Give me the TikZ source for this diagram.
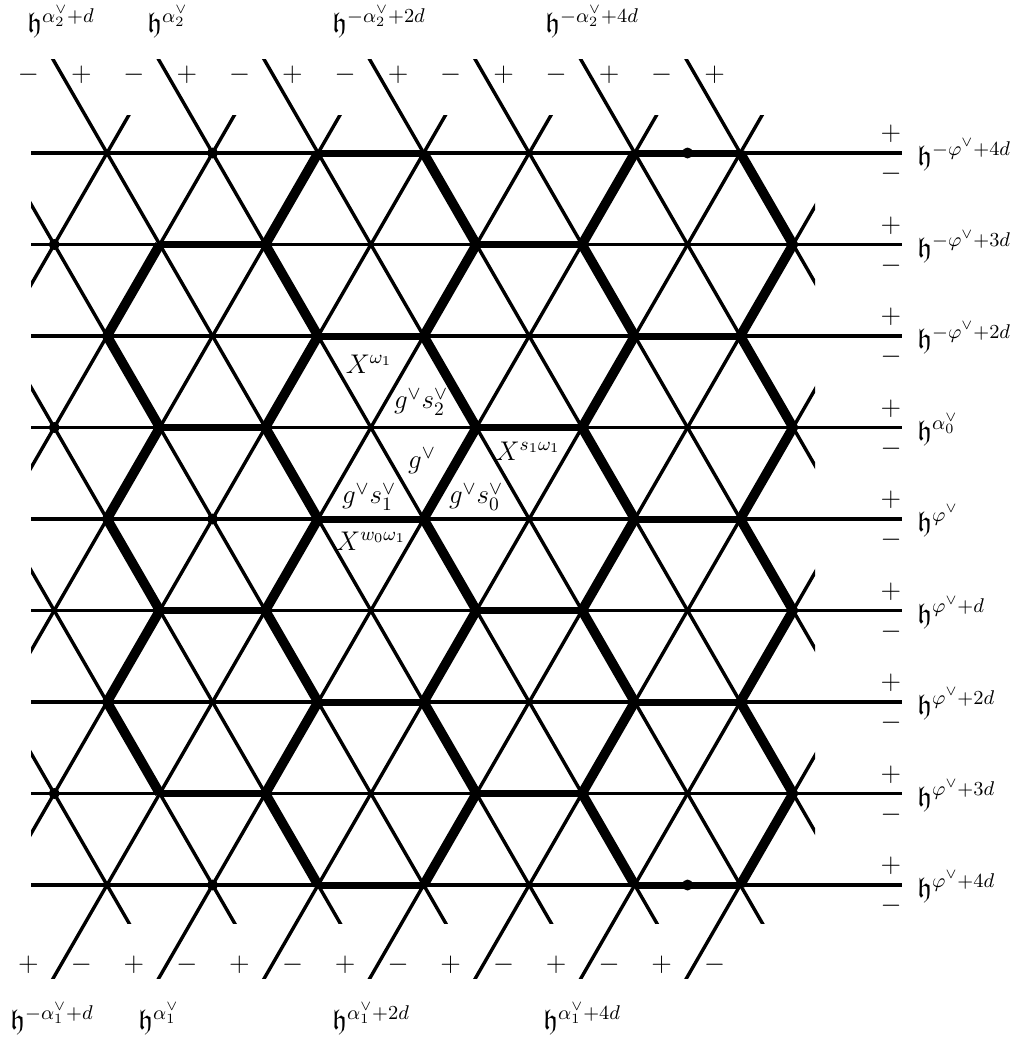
\RequirePackage{fix-cm}
\documentclass[tikz,border=0pt]{standalone}
\usepackage{amssymb}
\usetikzlibrary{calc}
\begin{document}
\begin{tikzpicture}[x=0.5pt,y=-0.5pt,
  font=\fontsize{13.5}{16}\selectfont,
  thinl/.style={line width=1.7pt},
  thickh/.style={line width=3.5pt},
  thickd/.style={line width=4.8pt},
  blackdot/.style={circle,fill=black,inner sep=0pt,minimum size=5.5pt},
  lbl/.style={inner sep=0pt},
  hlbl/.style={inner sep=0pt,anchor=west,font=\fontsize{14.2}{17}\selectfont},
  sgn/.style={inner sep=0pt}]
\useasboundingbox (0,0) rectangle (1023,1038);
% lattice vertices
\foreach \r in {0,2,4,6,8}
  \foreach \j in {0,...,6}
    \coordinate (v\r-\j) at ({107+105.55*\j},{153+91.5*\r});
\foreach \r in {1,3,5,7}
  \foreach \j in {0,...,7}
    \coordinate (v\r-\j) at ({54.225+105.55*\j},{153+91.5*\r});
% horizontal lines
\foreach \r in {0,...,8}{
  \coordinate (hl\r) at (31,{153+91.5*\r});
  \coordinate (hr\r) at (902,{153+91.5*\r});
  \draw[thinl] (hl\r) -- (hr\r);
}
% descending diagonals
\begin{scope}
  \clip (31,60) rectangle (815,923);
  \foreach \k in {-4,...,6}
    \draw[thinl] ({107+105.55*\k-0.57678*153},0) -- ({107+105.55*\k+0.57678*847},1000);
\end{scope}
% ascending diagonals
\begin{scope}
  \clip (31,116) rectangle (815,978);
  \foreach \k in {0,...,10}
    \draw[thinl] ({107+105.55*\k+0.57678*153},0) -- ({107+105.55*\k-0.57678*847},1000);
\end{scope}
% thick zigzags
\draw[thickd] (v1-1)--(v2-0)--(v3-1)--(v4-0)--(v5-1)--(v6-0)--(v7-1);
\draw[thickd] (v0-2)--(v1-2)--(v2-2)--(v3-2)--(v4-2)--(v5-2)--(v6-2)--(v7-2)--(v8-2);
\draw[thickd] (v0-3)--(v1-4)--(v2-3)--(v3-4)--(v4-3)--(v5-4)--(v6-3)--(v7-4)--(v8-3);
\draw[thickd] (v0-5)--(v1-5)--(v2-5)--(v3-5)--(v4-5)--(v5-5)--(v6-5)--(v7-5)--(v8-5);
\draw[thickd] (v0-6)--(v1-7)--(v2-6)--(v3-7)--(v4-6)--(v5-7)--(v6-6)--(v7-7)--(v8-6);
% thick horizontals
\foreach \r in {0,2,4,6,8}{
  \draw[thickh] (v\r-2)--(v\r-3);
  \draw[thickh] (v\r-5)--(v\r-6);
}
\foreach \r in {1,3,5,7}{
  \draw[thickh] (v\r-1)--(v\r-2);
  \draw[thickh] (v\r-4)--(v\r-5);
}
% dots
\node[blackdot] (d1) at (v0-1) {};
\node[blackdot] (d2) at (v8-1) {};
\node[blackdot] (d3) at (v1-0) {};
\node[blackdot] (d4) at (v7-0) {};
\node[blackdot] (d7) at (v3-0) {};
\node[blackdot] (d8) at (v4-1) {};
\node[blackdot] (d5) at ($(v0-5)!0.5!(v0-6)$) {};
\node[blackdot] (d6) at ($(v8-5)!0.5!(v8-6)$) {};
% top and bottom signs
\foreach \k in {0,...,6}{
  \node[sgn] (tm\k) at ({53.4+105.55*\k-25},75) {$-$};
  \node[sgn] (tp\k) at ({53.4+105.55*\k+28},75) {$+$};
  \node[sgn] (bp\k) at ({53.4+105.55*\k-25},965) {$+$};
  \node[sgn] (bm\k) at ({53.4+105.55*\k+28},965) {$-$};
}
% right signs
\foreach \r in {0,...,8}{
  \node[sgn] (rp\r) at (891,{153+91.5*\r-19}) {$+$};
  \node[sgn] (rm\r) at (891,{153+91.5*\r+21}) {$-$};
}
% top labels
\node[hlbl] (t1) at (27,22) {$\mathfrak{h}^{\alpha_2^\vee+d}$};
\node[hlbl] (t2) at (147,22) {$\mathfrak{h}^{\alpha_2^\vee}$};
\node[hlbl] (t3) at (332,22) {$\mathfrak{h}^{-\alpha_2^\vee+2d}$};
\node[hlbl] (t4) at (545,22) {$\mathfrak{h}^{-\alpha_2^\vee+4d}$};
% bottom labels
\node[hlbl] (b1) at (10,1019) {$\mathfrak{h}^{-\alpha_1^\vee+d}$};
\node[hlbl] (b2) at (138,1019) {$\mathfrak{h}^{\alpha_1^\vee}$};
\node[hlbl] (b3) at (332,1019) {$\mathfrak{h}^{\alpha_1^\vee+2d}$};
\node[hlbl] (b4) at (543,1019) {$\mathfrak{h}^{\alpha_1^\vee+4d}$};
% right labels
\node[hlbl] (r0) at (917,155) {$\mathfrak{h}^{-\varphi^\vee+4d}$};
\node[hlbl] (r1) at (917,246.5) {$\mathfrak{h}^{-\varphi^\vee+3d}$};
\node[hlbl] (r2) at (917,338) {$\mathfrak{h}^{-\varphi^\vee+2d}$};
\node[hlbl] (r3) at (917,429.5) {$\mathfrak{h}^{\alpha_0^\vee}$};
\node[hlbl] (r4) at (917,521) {$\mathfrak{h}^{\varphi^\vee}$};
\node[hlbl] (r5) at (917,612.5) {$\mathfrak{h}^{\varphi^\vee+d}$};
\node[hlbl] (r6) at (917,704) {$\mathfrak{h}^{\varphi^\vee+2d}$};
\node[hlbl] (r7) at (917,795.5) {$\mathfrak{h}^{\varphi^\vee+3d}$};
\node[hlbl] (r8) at (917,887) {$\mathfrak{h}^{\varphi^\vee+4d}$};
% alcove labels
\node[lbl] (a1) at (369,364) {$X^{\omega_1}$};
\node[lbl] (a2) at (421,402) {$g^\vee s_2^\vee$};
\node[lbl] (a3) at (422,461) {$g^\vee$};
\node[lbl] (a4) at (528,451) {$X^{s_1\omega_1}$};
\node[lbl] (a5) at (369,497) {$g^\vee s_1^\vee$};
\node[lbl] (a6) at (476,497) {$g^\vee s_0^\vee$};
\node[lbl] (a7) at (371,541) {$X^{w_0\omega_1}$};
\end{tikzpicture}
\end{document}
